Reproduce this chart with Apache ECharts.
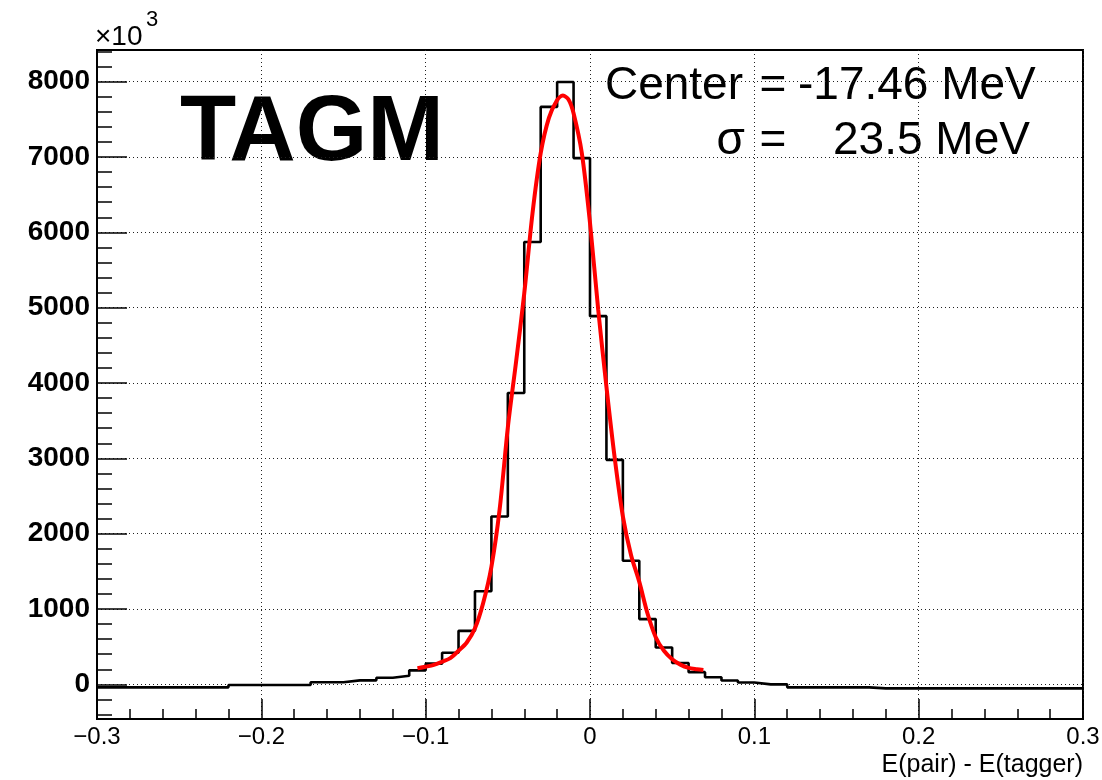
<!DOCTYPE html>
<html>
<head>
<meta charset="utf-8">
<script src="https://cdn.jsdelivr.net/npm/echarts@6/dist/echarts.min.js"></script>
<style>
html,body{margin:0;padding:0;background:#fff;}
#chart{width:1102px;height:780px;}
</style>
</head>
<body>
<div id="chart"></div>
<script>
// Histogram bin edges (61 edges, 60 bins)
const binEdges = [-0.30,-0.29,-0.28,-0.27,-0.26,-0.25,-0.24,-0.23,-0.22,-0.21,
  -0.20,-0.19,-0.18,-0.17,-0.16,-0.15,-0.14,-0.13,-0.12,-0.11,
  -0.10,-0.09,-0.08,-0.07,-0.06,-0.05,-0.04,-0.03,-0.02,-0.01,
  0.00,0.01,0.02,0.03,0.04,0.05,0.06,0.07,0.08,0.09,
  0.10,0.11,0.12,0.13,0.14,0.15,0.16,0.17,0.18,0.19,
  0.20,0.21,0.22,0.23,0.24,0.25,0.26,0.27,0.28,0.29,0.30];
// Bin contents (x10^3 units as displayed)
const binCounts = [-40,-40,-40,-40,-40,-40,-40,-40,-9,-9,
  -9,-9,-9,27,27,53,53,88,113,186,
  275,420,710,1235,2227,3867,5872,7665,7995,6985,
  4887,2980,1640,866,489,283,162,95,52,24,
  0,0,-40,-40,-40,-40,-40,-53,-53,-53,
  -53,-53,-53,-53,-53,-53,-53,-53,-53,-53];
// Fit curve points
const fitX = [-0.105,-0.100,-0.095,-0.090,-0.085,-0.080,-0.075,-0.070,-0.065,-0.060,
  -0.055,-0.050,-0.045,-0.040,-0.035,-0.030,-0.025,-0.020,-0.0165,-0.013,
  -0.010,-0.005,0.000,0.005,0.010,0.015,0.020,0.025,0.030,0.035,
  0.040,0.045,0.050,0.055,0.060,0.065,0.069];
const fitY = [214,234,258,300,348,445,555,744,1081,1560,
  2320,3410,4280,5190,6250,7050,7520,7755,7815,7760,
  7580,7055,6125,4970,3950,3010,2230,1715,1360,940,
  625,445,333,262,219,201,190];
// Tick values
const xTicks = [-0.3,-0.2,-0.1,0,0.1,0.2,0.3];
const yTicks = [0,1000,2000,3000,4000,5000,6000,7000,8000];
const yMinorTicks = [-400,-200,200,400,600,800,1200,1400,1600,1800,2200,2400,2600,2800,
  3200,3400,3600,3800,4200,4400,4600,4800,5200,5400,5600,5800,6200,6400,6600,6800,
  7200,7400,7600,7800,8200,8400];
const yRange = [-460, 8420];
const xRange = [-0.3, 0.3];

const histData = binEdges.map((e, i) => [e, binCounts[Math.min(i, binCounts.length - 1)]]);
const fitData = fitX.map((x, i) => [x, fitY[i]]);

const FONT = 'Liberation Sans, Arial, Helvetica, sans-serif';
const chart = echarts.init(document.getElementById('chart'), null, {renderer: 'canvas'});
chart.setOption({
  animation: false,
  backgroundColor: '#fff',
  grid: {left: 97, right: 19, top: 50, bottom: 61, containLabel: false, outerBoundsMode: 'none',
    show: true, borderColor: '#000', borderWidth: 2, backgroundColor: 'transparent'},
  xAxis: {
    type: 'value', min: xRange[0], max: xRange[1], interval: 0.1,
    axisLine: {show: true, onZero: false, lineStyle: {color: '#000', width: 2}},
    axisTick: {show: true, inside: true, length: 20, lineStyle: {color: '#000', width: 1.5}},
    minorTick: {show: true, splitNumber: 5, length: 10, lineStyle: {color: '#000', width: 1.5}},
    splitLine: {show: true, lineStyle: {color: '#222', width: 1, type: [1, 3]}},
    axisLabel: {color: '#000', fontSize: 24, fontFamily: FONT, margin: 6,
      formatter: v => { const r = Math.round(v * 10) / 10; return r === 0 ? '0' : String(r).replace('-', '\u2212'); }},
    name: 'E(pair) - E(tagger)', nameLocation: 'end', nameGap: 0,
    nameTextStyle: {color: '#000', fontSize: 25, fontFamily: FONT, align: 'right', verticalAlign: 'top', padding: [34, 0, 0, 0]}
  },
  yAxis: [{
    type: 'value', min: yRange[0], max: yRange[1], position: 'left',
    axisLine: {show: true, onZero: false, lineStyle: {color: '#000', width: 2}},
    axisTick: {show: true, inside: true, length: 30, customValues: yTicks, lineStyle: {color: '#000', width: 1.5}},
    splitLine: {show: true, lineStyle: {color: '#222', width: 1, type: [1, 3]}},
    axisLabel: {color: '#000', fontSize: 28, fontWeight: 'bold', fontFamily: FONT, margin: 7, customValues: yTicks,
      formatter: v => String(Math.round(v))}
  }, {
    type: 'value', min: yRange[0], max: yRange[1], position: 'left', gridIndex: 0,
    axisLine: {show: false, onZero: false},
    axisTick: {show: true, inside: true, length: 15, customValues: yMinorTicks, lineStyle: {color: '#000', width: 1.5}},
    splitLine: {show: false},
    axisLabel: {show: false}
  }],
  series: [{
    type: 'line', name: 'hist', data: histData, step: 'end', showSymbol: false, symbol: 'none',
    lineStyle: {color: '#000', width: 2.6}, z: 3
  }, {
    type: 'line', name: 'fit', data: fitData, smooth: 0.3, showSymbol: false, symbol: 'none',
    lineStyle: {color: '#ff0000', width: 4}, z: 4
  }],
  graphic: [
    {type: 'text', x: 95, y: 23, style: {text: '\u00d710', fontSize: 28, fontFamily: FONT, fill: '#000', align: 'left', verticalAlign: 'top'}},
    {type: 'text', x: 146, y: 9, style: {text: '3', fontSize: 22, fontFamily: FONT, fill: '#000', align: 'left', verticalAlign: 'top'}},
    {type: 'text', x: 180, y: 135, style: {text: 'TAGM', fontSize: 92, fontWeight: 'bold', fontFamily: FONT, fill: '#000', align: 'left', verticalAlign: 'middle'}},
    {type: 'text', x: 743, y: 86, style: {text: 'Center', fontSize: 46, fontFamily: FONT, fill: '#000', align: 'right', verticalAlign: 'middle'}},
    {type: 'text', x: 773, y: 86, style: {text: '=', fontSize: 46, fontFamily: FONT, fill: '#000', align: 'center', verticalAlign: 'middle'}},
    {type: 'text', x: 798, y: 86, style: {text: '-17.46 MeV', fontSize: 46, fontFamily: FONT, fill: '#000', align: 'left', verticalAlign: 'middle'}},
    {type: 'text', x: 745, y: 141, style: {text: '\u03c3', fontSize: 46, fontFamily: FONT, fill: '#000', align: 'right', verticalAlign: 'middle'}},
    {type: 'text', x: 773, y: 141, style: {text: '=', fontSize: 46, fontFamily: FONT, fill: '#000', align: 'center', verticalAlign: 'middle'}},
    {type: 'text', x: 833, y: 141, style: {text: '23.5 MeV', fontSize: 46, fontFamily: FONT, fill: '#000', align: 'left', verticalAlign: 'middle'}}
  ]
});
</script>
</body>
</html>
